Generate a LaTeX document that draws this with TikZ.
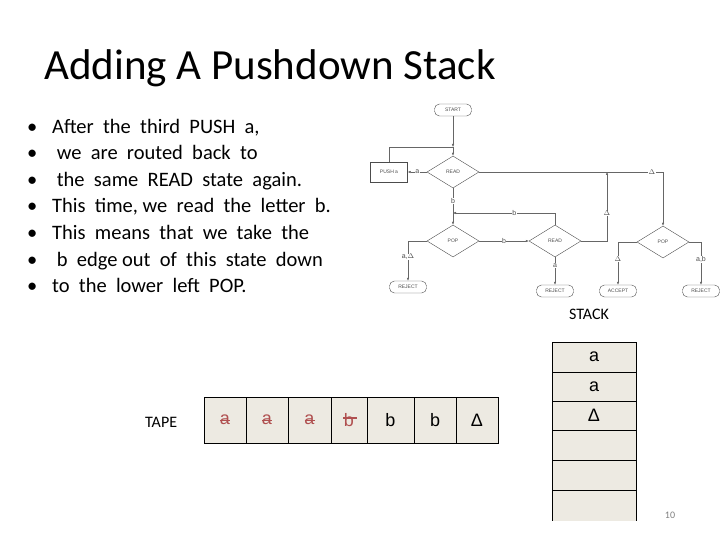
\documentclass[tikz,border=0pt]{standalone}
\usepackage{fontspec}
\setmainfont{Carlito}
\newfontfamily\fcs{Liberation Sans}
\usetikzlibrary{shapes.geometric,arrows.meta}
\definecolor{cell}{HTML}{EDEAE2}
\definecolor{redt}{HTML}{B05050}
\begin{document}
\begin{tikzpicture}[x=1pt,y=-1pt,
 fl/.style={draw=black!60,line width=0.4pt},
 ar/.style={fl,-{Latex[length=3pt,width=2.5pt]}},
 term/.style={draw=black!70,rounded corners=5pt,minimum width=37pt,minimum height=12pt,inner sep=0,font=\fcs\fontsize{5}{6}\selectfont,text=black!70},
 dia/.style={draw=black!70,diamond,aspect=1.6,minimum width=52pt,minimum height=32pt,inner sep=0,font=\fcs\fontsize{5}{6}\selectfont,text=black!70},
 lab/.style={font=\fcs\fontsize{7}{8}\selectfont,text=black!70,fill=white,inner sep=0.5pt},
 bl/.style={anchor=base west,font=\fontsize{20.5}{24}\selectfont,inner sep=0},
 tc/.style={draw=black,fill=cell,minimum height=46pt,inner sep=0,font=\fcs\fontsize{18}{20}\selectfont},
 sc/.style={draw=black,line width=1pt,fill=cell,minimum width=84pt,inner sep=0,font=\fcs\fontsize{18}{20}\selectfont}]
\useasboundingbox (0,0) rectangle (720,540);
\node[anchor=west,font=\fontsize{43}{48}\selectfont,inner sep=0] (title) at (44,68) {Adding A Pushdown Stack};
\foreach \t [count=\i] in {{After \ the \ third \ PUSH \ a,},{\ we \ are \ routed \ back \ to},{\ the \ same \ READ \ state \ again.},{This \ time, we \ read \ the \ letter \ b.},{This \ means \ that \ we \ take \ the},{\ b \ edge out \ of \ this \ state \ down},{to \ the \ lower \ left \ POP.}}{
 \node[bl] (bu\i) at (27,{107+26.5*\i}) {\textbullet};
 \node[bl] (bt\i) at (52,{107+26.5*\i}) {\t};
}
% flowchart
\node[term] (start) at (453,110) {START};
\node[dia] (read1) at (453,172) {READ};
\node[draw=black!70,minimum width=37pt,minimum height=20pt,inner sep=0,font=\fcs\fontsize{5}{6}\selectfont,text=black!70] (push) at (389,172) {PUSH a};
\node[dia] (pop1) at (453,241) {POP};
\node[dia] (read2) at (555,241) {READ};
\node[dia] (pop2) at (663,242) {POP};
\node[term] (rej1) at (408,287) {REJECT};
\node[term] (rej2) at (555,291) {REJECT};
\node[term] (acc) at (618,291) {ACCEPT};
\node[term] (rej3) at (701,291) {REJECT};
\coordinate (j1) at (453,147);
\coordinate (j2) at (453,213);
\coordinate (j3) at (607,172);
\draw[ar] (start) -- (j1);
\draw[ar] (j1) -- (read1.north);
\draw[fl] (push.north) |- (j1);
\draw[ar] (read1.west) -- node[lab]{a} (push.east);
\draw[fl] (read1.south) -- node[lab]{b} (j2);
\draw[ar] (j2) -- (pop1.north);
\draw[ar] (read2.north) |- node[lab,pos=0.7]{b} (j2);
\draw[ar] (pop1.east) -- node[lab]{b} (read2.west);
\draw[ar] (pop1.west) -| node[lab,pos=0.7]{a,$\Delta$} (rej1.north);
\draw[ar] (read2.south) -- node[lab,pos=0.3]{a} (rej2.north);
\draw[ar] (read2.east) -| node[lab,pos=0.7]{$\Delta$} (j3);
\draw[ar] (read1.east) -| node[lab,pos=0.47]{$\Delta$} (pop2.north);
\draw[ar] (pop2.west) -| node[lab,pos=0.7]{$\Delta$} (acc.north);
\draw[ar] (pop2.east) -| node[lab,pos=0.7]{a,b} (rej3.north);
% tape
\node[anchor=west,font=\fontsize{16}{18}\selectfont,inner sep=0] (tape) at (145,422) {TAPE};
\foreach \a/\b/\t/\c [count=\i] in {204/246/a/redt,246/288/a/redt,288/331/a/redt,331/367/b/redt,367/414/b/black,414/456/b/black,456/498/Δ/black}{
 \node[tc,minimum width={\b-\a},text=\c] (t\i) at ({(\a+\b)/2},420) {\t};
}
\foreach \i in {1,2,3}{\draw[redt,line width=1pt] (t\i.center)++(-5,0) -- ++(10,0);}
\draw[redt,line width=1.5pt] (t4.center)++(-6,-2) -- ++(14,0);
\fill[white] (498.5,390) rectangle (505,450);
% stack
\node[font=\fontsize{16}{18}\selectfont] (stl) at (589,314) {STACK};
\foreach \a/\b/\t [count=\i] in {342/372/a,372/401/a,401/430/Δ,430/460/,460/490/,490/530/}{
 \node[sc,minimum height={\b-\a}] (s\i) at (594,{(\a+\b)/2}) {\t};
}
\fill[white] (540,520.5) rectangle (650,541);
\node[font=\fontsize{10}{12}\selectfont,text=black!50] (pg) at (670,515) {10};
\end{tikzpicture}
\end{document}
